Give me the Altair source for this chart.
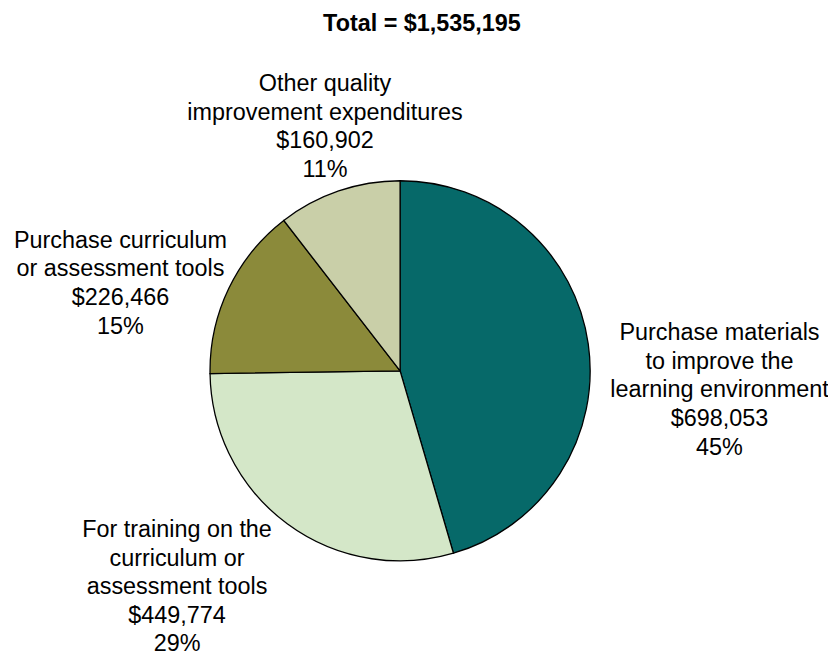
import altair as alt
import pandas as pd

keys = ["materials", "training", "curriculum", "other"]
names = [
    "Purchase materials\nto improve the\nlearning environment",
    "For training on the\ncurriculum or\nassessment tools",
    "Purchase curriculum\nor assessment tools",
    "Other quality\nimprovement expenditures",
]
values = [698053, 449774, 226466, 160902]
percents = [45, 29, 15, 11]
colors = ["#066969", "#D4E7C8", "#8B8A3A", "#C9CFA8"]
total_label = "Total = $1,535,195"

df = pd.DataFrame({
    "key": keys,
    "value": values,
    "order": list(range(len(keys))),
    "label": [f"{n}\n${v:,}\n{p}%" for n, v, p in zip(names, values, percents)],
})

FONT = "Liberation Sans"
FS = 23.5
theta_scale = alt.Scale(domain=[0, sum(values)], nice=False, zero=True)

base = alt.Chart(df).transform_stack(
    stack="value", groupby=[], as_=["v0", "v1"],
    sort=[alt.SortField("order", order="ascending")],
).transform_calculate(mid="(datum.v0 + datum.v1) / 2")

pie = base.mark_arc(outerRadius=191, stroke="black", strokeWidth=1.3).encode(
    theta=alt.Theta("v0:Q", scale=theta_scale, stack=None),
    theta2="v1:Q",
    color=alt.Color("key:N", scale=alt.Scale(domain=keys, range=colors), legend=None),
)

# label placement style: radius, dx, dy per slice
label_style = {
    "materials": (320.6, 3.6, 7.8),
    "training": (318.2, -35.2, -96.0),
    "curriculum": (294.8, -15.4, -2.6),
    "other": (256.4, 7.5, -45.4),
}

layers = [pie]
for k in keys:
    r, dx, dy = label_style[k]
    layers.append(
        base.transform_filter(alt.datum.key == k).mark_text(
            radius=r, dx=dx, dy=dy, align="center", baseline="middle",
            lineBreak="\n", lineHeight=28.7, font=FONT, fontSize=FS, color="black",
        ).encode(
            theta=alt.Theta("mid:Q", scale=theta_scale, stack=None),
            text=alt.Text("label:N"),
        )
    )

chart = alt.layer(*layers).properties(
    width=600,
    height=560,
    padding={"left": 94, "top": 83, "right": 130, "bottom": 5},
    autosize=alt.AutoSizeParams(type="none"),
    title=alt.TitleParams(
        total_label, font=FONT, fontSize=FS, fontWeight="bold", color="black",
        anchor="middle", dx=22, offset=18, baseline="alphabetic",
    ),
).configure_view(stroke=None)

chart.save("out.html", embed_options={"renderer": "svg", "actions": False})
